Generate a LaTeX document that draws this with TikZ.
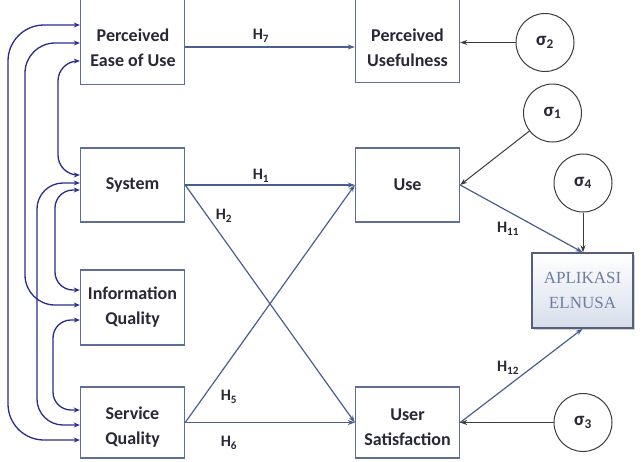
\documentclass[tikz,border=0pt]{standalone}
\usepackage{fontspec}
\setmainfont{Carlito}
\newfontfamily\serifapp{Liberation Serif}
\usetikzlibrary{arrows.meta,shadows}
\definecolor{boxc}{RGB}{95,110,150}
\definecolor{navyc}{RGB}{40,45,140}
\definecolor{hlinec}{RGB}{75,95,140}
\definecolor{txtc}{RGB}{40,40,55}
\definecolor{sigc}{RGB}{60,60,60}
\definecolor{apptxt}{RGB}{110,125,160}
\definecolor{appdraw}{RGB}{85,95,125}
\definecolor{appfill}{RGB}{215,222,235}
\tikzset{
  boxnode/.style={draw=boxc, line width=1.4pt, fill=white, minimum width=104pt, inner sep=0pt},
  lbl/.style={font=\fontsize{18}{25}\selectfont\bfseries, text=txtc, align=center, inner sep=0pt},
  hlbl/.style={font=\fontsize{16}{16}\selectfont\bfseries, text=txtc, inner sep=0pt},
  signode/.style={circle, draw=sigc, line width=1pt, minimum size=58pt, inner sep=0pt,
    font=\fontsize{19}{20}\selectfont\bfseries, text=txtc},
  leftarr/.style={draw=navyc, line width=1.3pt,
    {Stealth[length=6pt,width=5pt]}-{Stealth[length=6pt,width=5pt]}},
  harr/.style={draw=hlinec, line width=1.2pt, -{Stealth[length=7pt,width=5pt]}},
  sarr/.style={draw=sigc, line width=1pt, -{Stealth[length=7pt,width=5pt]}},
}
\begin{document}
\begin{tikzpicture}[x=1pt,y=-1pt]
\fill[white] (0,0) rectangle (644,461);
\useasboundingbox (0,0) rectangle (644,461);

% boxes
\node[boxnode, minimum height=93pt] (peu) at (132.5,38) {};
\node[boxnode, minimum height=91pt] (pu) at (407.5,37) {};
\node[boxnode, minimum height=74pt] (sys) at (132.5,185) {};
\node[boxnode, minimum height=74pt] (use) at (407.5,185) {};
\node[boxnode, minimum height=75pt] (iq) at (132.5,307.5) {};
\node[boxnode, minimum height=71pt] (sq) at (132.5,422.5) {};
\node[boxnode, minimum height=71pt] (us) at (407.5,422.5) {};

\node[lbl] (peut) at (133,48) {Perceived\\Ease of Use};
\node[lbl] (put) at (407.5,48) {Perceived\\Usefulness};
\node[lbl] (syst) at (132.5,185) {System};
\node[lbl] (uset) at (407.5,185) {Use};
\node[lbl] (iqt) at (132.5,307.5) {Information\\Quality};
\node[lbl] (sqt) at (132.5,427) {Service\\Quality};
\node[lbl] (ust) at (407.5,427) {User\\Satisfaction};

\node[draw=appdraw, line width=1.6pt, top color=white, bottom color=appfill,
      drop shadow={opacity=0.35, shadow xshift=2pt, shadow yshift=-2pt},
      minimum width=101pt, minimum height=75pt, inner sep=0pt, align=center,
      text=apptxt, font=\serifapp\fontsize{17}{25}\selectfont] (app) at (582.5,290.5) {APLIKASI\\ELNUSA};

% sigma circles
\node[signode] (s2) at (545,42.5) {σ\textsubscript{2}};
\node[signode] (s1) at (552.5,113) {σ\textsubscript{1}};
\node[signode] (s4) at (583,183) {σ\textsubscript{4}};
\node[signode] (s3) at (583,422.5) {σ\textsubscript{3}};

% left correlation arrows
\draw[leftarr, rounded corners=36pt] ([yshift=13pt]peu.west) -- (8,25) -- (8,440) -- ([yshift=-17.5pt]sq.west);
\draw[leftarr, rounded corners=30pt] ([yshift=-5pt]peu.west) -- (25,43) -- (25,305) -- ([yshift=2.5pt]iq.west);
\draw[leftarr, rounded corners=20pt] ([yshift=-23pt]peu.west) -- (58,61) -- (58,175) -- ([yshift=10pt]sys.west);
\draw[leftarr, rounded corners=26pt] ([yshift=2pt]sys.west) -- (37,183) -- (37,425) -- ([yshift=-2.5pt]sq.west);
\draw[leftarr, rounded corners=18pt] ([yshift=-5pt]sys.west) -- (55,190) -- (55,290) -- ([yshift=17.5pt]iq.west);
\draw[leftarr, rounded corners=18pt] ([yshift=-12.5pt]iq.west) -- (53,320) -- (53,410) -- ([yshift=12.5pt]sq.west);

% hypothesis arrows
\draw[harr] ([yshift=-9pt]peu.east) -- ([yshift=-10pt]pu.west);
\draw[harr] (sys.east) -- (use.west);
\draw[harr] (sys.east) -- (us.west);
\draw[harr] (sq.east) -- (use.west);
\draw[harr] (sq.east) -- (us.west);
\draw[harr] (use.east) -- (app.north);
\draw[harr] (us.east) -- (app.south);

\node[hlbl] (h7) at (261,36) {H\textsubscript{7}};
\node[hlbl] (h1) at (261,176) {H\textsubscript{1}};
\node[hlbl] (h2) at (224,216) {H\textsubscript{2}};
\node[hlbl] (h5) at (229,397) {H\textsubscript{5}};
\node[hlbl] (h6) at (229,443) {H\textsubscript{6}};
\node[hlbl] (h11) at (508,229) {H\textsubscript{11}};
\node[hlbl] (h12) at (508,368) {H\textsubscript{12}};

% sigma arrows
\draw[sarr] (s2) -- (s2 -| pu.east);
\draw[sarr] (s1) -- (use.east);
\draw[sarr] (s4) -- (app.north -| s4);
\draw[sarr] (s3) -- (us.east);
\end{tikzpicture}
\end{document}
